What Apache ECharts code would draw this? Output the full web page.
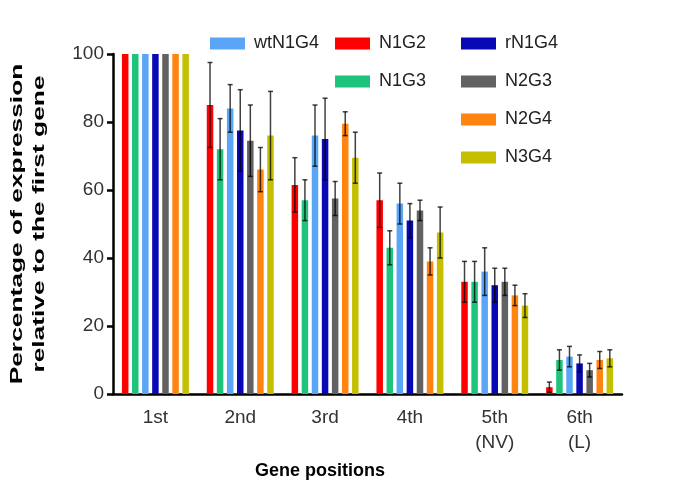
<!DOCTYPE html>
<html>
<head>
<meta charset="utf-8">
<script src="https://cdn.jsdelivr.net/npm/echarts@6/dist/echarts.min.js"></script>
<style>
  html, body { margin: 0; padding: 0; background: #fff; }
  #chart { width: 680px; height: 484px; }
</style>
</head>
<body>
<div id="chart"></div>
<script>
  // gene positions
  var categories = ['1st', '2nd', '3rd', '4th', '5th\n(NV)', '6th\n(L)'];
  var yTicks = [0, 20, 40, 60, 80, 100];

  var seriesNames = ['N1G2', 'N1G3', 'wtN1G4', 'rN1G4', 'N2G3', 'N2G4', 'N3G4'];
  var seriesColors = ['#ff0000', '#1fc47c', '#5ba5f6', '#0808b4', '#626262', '#ff8410', '#c4c000'];

  // mean values per series
  var N1G2 = [100, 85, 61.5, 57, 33, 2];
  var N1G3 = [100, 72, 57, 43, 33, 10];
  var wtN1G4 = [100, 84, 76, 56, 36, 11];
  var rN1G4 = [100, 77.5, 75, 51, 32, 9];
  var N2G3 = [100, 74.5, 57.5, 54, 33, 7];
  var N2G4 = [100, 66, 79.5, 39, 29, 10];
  var N3G4 = [100, 76, 69.5, 47.5, 26, 10.5];

  // error bars (+/-)
  var errN1G2 = [0, 12.5, 8, 8, 6, 1.5];
  var errN1G3 = [0, 9, 6, 5, 6, 3];
  var errWtN1G4 = [0, 7, 9, 6, 7, 3];
  var errRN1G4 = [0, 12, 12, 5, 5, 2.5];
  var errN2G3 = [0, 10.5, 5, 3, 4, 2];
  var errN2G4 = [0, 6.5, 3.5, 4, 3, 2.5];
  var errN3G4 = [0, 13, 7.5, 7.5, 3.5, 2.5];

  var values = [N1G2, N1G3, wtN1G4, rN1G4, N2G3, N2G4, N3G4];
  var errors = [errN1G2, errN1G3, errWtN1G4, errRN1G4, errN2G3, errN2G4, errN3G4];

  var font = 'Liberation Sans, Arial, sans-serif';
  var barW = 6.5;
  var barGap = 0.55;
  var pitch = barW * (1 + barGap);

  var chart = echarts.init(document.getElementById('chart'));

  var series = [];
  seriesNames.forEach(function (name, i) {
    series.push({
      name: name,
      type: 'bar',
      barWidth: barW,
      barGap: (barGap * 100) + '%',
      itemStyle: { color: seriesColors[i] },
      data: values[i]
    });
  });

  // error bars drawn on top of the bars
  seriesNames.forEach(function (name, i) {
    var offset = (i - (seriesNames.length - 1) / 2) * pitch;
    series.push({
      name: 'err' + name,
      type: 'custom',
      z: 10,
      silent: true,
      encode: { x: 0, y: 1 },
      data: values[i].map(function (v, k) { return [k, v, errors[i][k]]; }),
      renderItem: function (params, api) {
        var k = api.value(0), v = api.value(1), e = api.value(2);
        if (!e) return null;
        var x = api.coord([k, v])[0] + offset;
        var yTop = api.coord([k, v + e])[1];
        var yBot = api.coord([k, v - e])[1];
        var style = { stroke: 'rgba(0,0,0,0.75)', lineWidth: 1.5 };
        return {
          type: 'group',
          children: [
            { type: 'line', shape: { x1: x, y1: yTop, x2: x, y2: yBot }, style: style },
            { type: 'line', shape: { x1: x - 2.5, y1: yTop, x2: x + 2.5, y2: yTop }, style: style },
            { type: 'line', shape: { x1: x - 2.5, y1: yBot, x2: x + 2.5, y2: yBot }, style: style }
          ]
        };
      }
    });
  });

  var legendBase = {
    orient: 'vertical',
    icon: 'rect',
    itemWidth: 35,
    itemHeight: 12,
    itemGap: 15,
    top: 27,
    textStyle: { fontFamily: font, fontSize: 18, color: '#222', lineHeight: 23, padding: [0, 0, 0, 4] }
  };

  chart.setOption({
    animation: false,
    backgroundColor: '#fff',
    title: {
      text: 'Gene positions',
      left: 250,
      top: 457,
      textStyle: { fontFamily: font, fontSize: 18, fontWeight: 'bold', color: '#000' }
    },
    // y axis title, stretched along its length like the figure
    graphic: [{
      type: 'text',
      x: 28,
      y: 224,
      rotation: Math.PI / 2,
      scaleX: 1.55,
      style: {
        text: 'Percentage of expression\nrelative to the first gene',
        fontFamily: font,
        fontSize: 17,
        fontWeight: 'bold',
        lineHeight: 22,
        fill: '#000',
        align: 'center',
        verticalAlign: 'middle'
      }
    }],
    legend: [
      Object.assign({}, legendBase, { left: 205, data: ['wtN1G4'] }),
      Object.assign({}, legendBase, { left: 330, data: ['N1G2', 'N1G3'] }),
      Object.assign({}, legendBase, { left: 456, data: ['rN1G4', 'N2G3', 'N2G4', 'N3G4'] })
    ],
    grid: { left: 113, right: 58, top: 54, bottom: 90 },
    xAxis: {
      type: 'category',
      data: categories,
      axisLine: { lineStyle: { color: '#000', width: 2.5 } },
      axisTick: { alignWithLabel: true, length: 6, lineStyle: { color: '#000', width: 2.5 } },
      axisLabel: { fontFamily: font, fontSize: 19, color: '#333', margin: 11, lineHeight: 25 }
    },
    yAxis: {
      type: 'value',
      min: yTicks[0],
      max: yTicks[yTicks.length - 1],
      interval: 20,
      axisLine: { show: true, lineStyle: { color: '#000', width: 2.5 } },
      axisTick: { show: true, length: 6, lineStyle: { color: '#000', width: 2.5 } },
      axisLabel: { fontFamily: font, fontSize: 19, color: '#333', margin: 9 },
      splitLine: { show: false }
    },
    series: series
  });
</script>
</body>
</html>
